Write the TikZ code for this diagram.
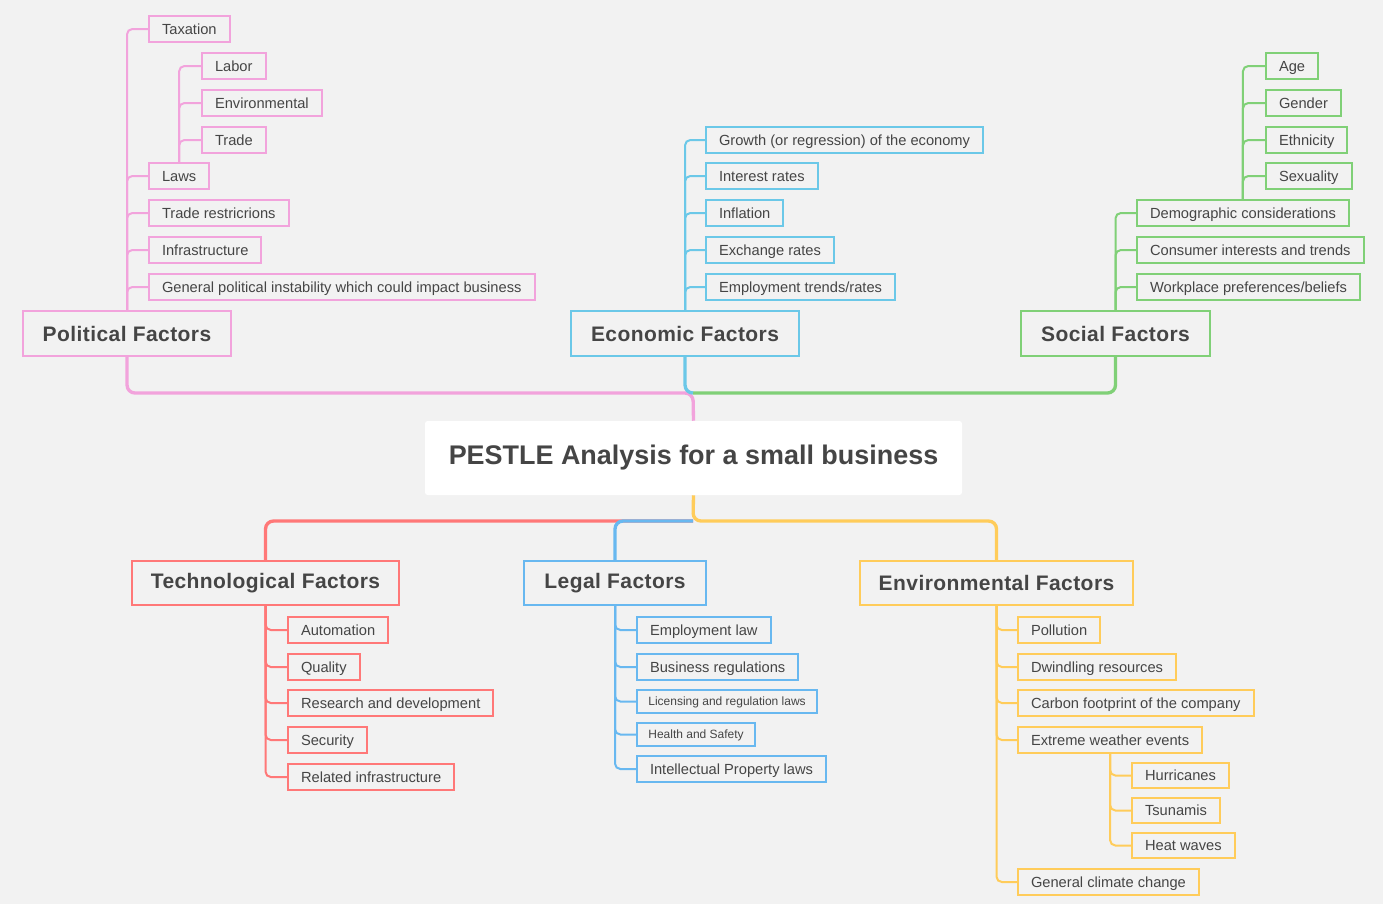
\documentclass[tikz,border=0pt]{standalone}
\usepackage{fontspec}
\setmainfont{Liberation Sans}
\newfontfamily\headfont[LetterSpace=2]{Liberation Sans}
\usepackage{xcolor}

\definecolor{bg}{HTML}{F2F2F2}
\definecolor{txt}{HTML}{454545}
\definecolor{pk}{HTML}{F2A3DC}
\definecolor{eb}{HTML}{6BC8E8}
\definecolor{gn}{HTML}{80D077}
\definecolor{rd}{HTML}{FF7878}
\definecolor{lb}{HTML}{68B8F0}
\definecolor{yl}{HTML}{FFCC5A}

\tikzset{
  leaf/.style={draw=#1, line width=1.5pt, anchor=west, text=txt, font=\fontsize{11}{13}\selectfont, minimum height=19.5pt, text height=7.9pt, text depth=0pt, inner xsep=9.75pt, inner ysep=0pt},
  small/.style={font=\fontsize{9}{11}\selectfont, minimum height=17.5pt, text height=6.5pt, inner xsep=8.5pt},
  factor/.style={draw=#1, line width=1.5pt, text=txt, font=\headfont\bfseries\fontsize{15.75}{18}\selectfont, minimum height=33.75pt},
  link/.style={draw=#1, line width=1.5pt, rounded corners=4pt},
  trunk/.style={draw=#1, line width=2.5pt, rounded corners=6pt},
}

\begin{document}
\begin{tikzpicture}[x=0.75pt, y=-0.75pt]

        \fill[bg] (0,0) rectangle (1383,904);
        \useasboundingbox (0,0) rectangle (1383,904);

                % Root
                \node[fill=white, rounded corners=2pt, minimum width=402.75pt, minimum height=55.5pt, text=txt, font=\bfseries\fontsize{20.2}{24}\selectfont] (root) at (693.5,458) {PESTLE Analysis for a small business};
                \coordinate (up) at (693,393);
                \coordinate (down) at (693,521);

                % Factors
                \node[factor=pk, minimum width=156pt] (pol) at (127,333.5) {Political Factors};
                \node[factor=eb, minimum width=171pt] (eco) at (685,333.5) {Economic Factors};
                \node[factor=gn, minimum width=141.75pt] (soc) at (1115.5,333.5) {Social Factors};
                \node[factor=rd, minimum width=200.25pt, minimum height=33pt] (tech) at (265.5,583) {Technological Factors};
                \node[factor=lb, minimum width=136.5pt, minimum height=33pt] (legal) at (615,583) {Legal Factors};
                \node[factor=yl, minimum width=204.75pt, minimum height=33pt] (env) at (996.5,583) {Environmental Factors};

                % Political
                \node[leaf=pk] (tax) at (148,29) {Taxation};
                \node[leaf=pk] (labor) at (201,66) {Labor};
                \node[leaf=pk] (envp) at (201,103) {Environmental};
                \node[leaf=pk] (trade) at (201,140) {Trade};
                \node[leaf=pk] (laws) at (148,176) {Laws};
                \node[leaf=pk] (tres) at (148,213) {Trade restricrions};
                \node[leaf=pk] (infra) at (148,250) {Infrastructure};
                \node[leaf=pk] (inst) at (148,287) {General political instability which could impact business};

                % Economic
                \node[leaf=eb] (growth) at (705,140) {Growth (or regression) of the economy};
                \node[leaf=eb] (rates) at (705,176) {Interest rates};
                \node[leaf=eb] (infl) at (705,213) {Inflation};
                \node[leaf=eb] (exch) at (705,250) {Exchange rates};
                \node[leaf=eb] (empl) at (705,287) {Employment trends/rates};

                % Social
                \node[leaf=gn] (age) at (1265,66) {Age};
                \node[leaf=gn] (gender) at (1265,103) {Gender};
                \node[leaf=gn] (eth) at (1265,140) {Ethnicity};
                \node[leaf=gn] (sex) at (1265,176) {Sexuality};
                \node[leaf=gn] (demo) at (1136,213) {Demographic considerations};
                \node[leaf=gn] (cons) at (1136,250) {Consumer interests and trends};
                \node[leaf=gn] (work) at (1136,287) {Workplace preferences/beliefs};

                % Technological
                \node[leaf=rd] (auto) at (287,630) {Automation};
                \node[leaf=rd] (qual) at (287,667) {Quality};
                \node[leaf=rd] (rnd) at (287,703) {Research and development};
                \node[leaf=rd] (secu) at (287,740) {Security};
                \node[leaf=rd] (rinf) at (287,777) {Related infrastructure};

                % Legal
                \node[leaf=lb] (elaw) at (636,630) {Employment law};
                \node[leaf=lb] (breg) at (636,667) {Business regulations};
                \node[leaf=lb, small] (lic) at (636,701.5) {Licensing and regulation laws};
                \node[leaf=lb, small] (hs) at (636,734.5) {Health and Safety};
                \node[leaf=lb] (ip) at (636,769) {Intellectual Property laws};

                % Environmental
                \node[leaf=yl] (poll) at (1017,630) {Pollution};
                \node[leaf=yl] (dwin) at (1017,667) {Dwindling resources};
                \node[leaf=yl] (carb) at (1017,703) {Carbon footprint of the company};
                \node[leaf=yl] (ext) at (1017,740) {Extreme weather events};
                \node[leaf=yl, minimum height=18.75pt] (hurr) at (1131,775.5) {Hurricanes};
                \node[leaf=yl, minimum height=18.75pt] (tsu) at (1131,810.5) {Tsunamis};
                \node[leaf=yl, minimum height=18.75pt] (heat) at (1131,845.5) {Heat waves};
                \node[leaf=yl] (clim) at (1017,882) {General climate change};

                % Edges
                \draw[trunk=pk] (root.north) -- (up) -| (pol.south);
                \draw[trunk=gn] (up) -| (soc.south);
                \draw[trunk=eb] (eco.south) |- (up);
                \draw[trunk=yl] (root.south) -- (down) -| (env.north);
                \draw[trunk=rd] (down) -| (tech.north);
                \draw[trunk=lb] (down) -| (legal.north);

                \foreach \c in {tax,laws,tres,infra,inst} \draw[link=pk] (pol.north) |- (\c.west);
                \foreach \c in {labor,envp,trade} \draw[link=pk] (laws.north) |- (\c.west);
                \foreach \c in {growth,rates,infl,exch,empl} \draw[link=eb] (eco.north) |- (\c.west);
                \foreach \c in {demo,cons,work} \draw[link=gn] (soc.north) |- (\c.west);
                \foreach \c in {age,gender,eth,sex} \draw[link=gn] (demo.north) |- (\c.west);
                \foreach \c in {auto,qual,rnd,secu,rinf} \draw[link=rd] (tech.south) |- (\c.west);
                \foreach \c in {elaw,breg,lic,hs,ip} \draw[link=lb] (legal.south) |- (\c.west);
                \foreach \c in {poll,dwin,carb,ext,clim} \draw[link=yl] (env.south) |- (\c.west);
                \foreach \c in {hurr,tsu,heat} \draw[link=yl] (ext.south) |- (\c.west);

\end{tikzpicture}
\end{document}
